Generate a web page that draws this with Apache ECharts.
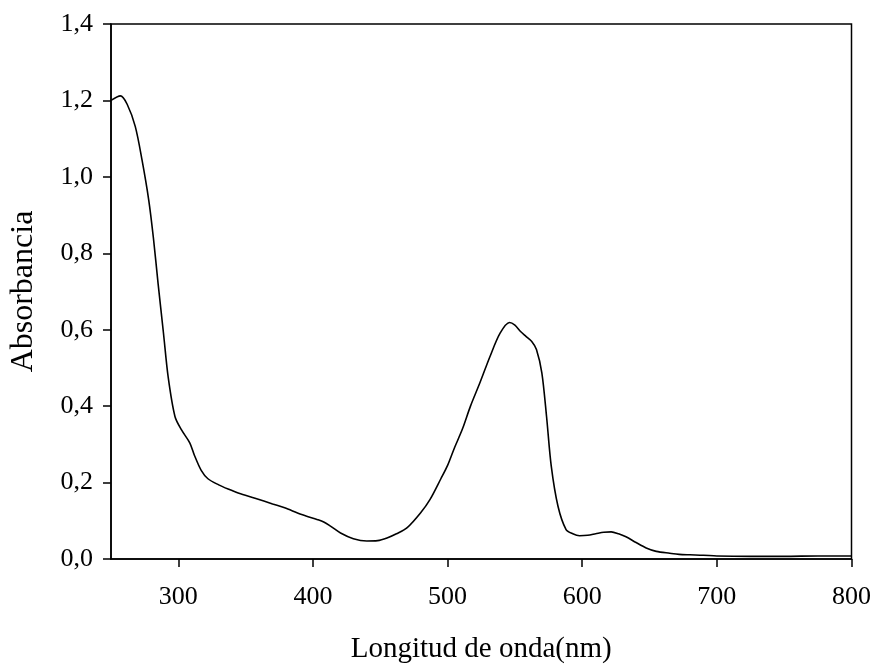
<!DOCTYPE html>
<html>
<head>
<meta charset="utf-8">
<script src="https://cdn.jsdelivr.net/npm/echarts@6/dist/echarts.min.js"></script>
<style>html,body{margin:0;padding:0;background:#fff}#c{width:874px;height:671px}</style>
</head>
<body>
<div id="c"></div>
<script>
const wavelength = [250, 257, 262, 268, 273, 278, 281.5, 285, 289, 292.5, 297.5, 302.5, 308.5, 312, 317, 322, 330, 337, 345, 357, 370, 379, 391, 403.5, 408, 413, 420.5, 430, 440, 448, 455, 462, 470, 480, 487, 495, 500, 505, 511, 517, 524, 531.5, 539, 546, 550, 554, 558, 562.5, 566, 570, 573.5, 577, 582, 588, 593, 598, 604, 610, 616, 621.5, 627, 632.5, 640, 647.5, 655, 665, 672, 680, 690, 700, 725, 750, 775, 800];
const absorbance = [1.20, 1.212, 1.19, 1.132, 1.045, 0.94, 0.84, 0.72, 0.59, 0.475, 0.373, 0.337, 0.304, 0.271, 0.232, 0.21, 0.194, 0.183, 0.172, 0.159, 0.144, 0.134, 0.117, 0.103, 0.097, 0.086, 0.068, 0.053, 0.047, 0.048, 0.055, 0.066, 0.082, 0.121, 0.156, 0.21, 0.245, 0.29, 0.34, 0.40, 0.461, 0.530, 0.591, 0.619, 0.612, 0.596, 0.583, 0.569, 0.548, 0.487, 0.373, 0.243, 0.138, 0.077, 0.066, 0.061, 0.062, 0.066, 0.07, 0.071, 0.066, 0.058, 0.043, 0.029, 0.02, 0.015, 0.012, 0.011, 0.01, 0.008, 0.007, 0.007, 0.008, 0.008];
const xTicks = [300, 400, 500, 600, 700, 800];
const yTicks = [0, 0.2, 0.4, 0.6, 0.8, 1.0, 1.2, 1.4];

const chart = echarts.init(document.getElementById('c'));
const font = '"Liberation Serif", "Times New Roman", serif';
chart.setOption({
  animation: false,
  backgroundColor: '#fff',
  grid: { left: 109, top: 24, right: 22, bottom: 112, show: true, borderColor: '#000', borderWidth: 1.5, backgroundColor: 'transparent' },
  xAxis: {
    type: 'value', min: 250, max: 800,
    name: 'Longitud de onda(nm)', nameLocation: 'middle', nameGap: 76,
    nameTextStyle: { fontFamily: font, fontSize: 29, color: '#000' },
    axisLine: { show: true, onZero: false, lineStyle: { color: '#000', width: 1.5 } },
    axisTick: { show: true, inside: false, length: 8, lineStyle: { color: '#000', width: 1.5 }, customValues: xTicks },
    axisLabel: { fontFamily: font, fontSize: 26, color: '#000', margin: 25, customValues: xTicks },
    splitLine: { show: false }
  },
  yAxis: {
    type: 'value', min: 0, max: 1.4, interval: 0.2,
    name: 'Absorbancia', nameLocation: 'middle', nameGap: 71,
    nameTextStyle: { fontFamily: font, fontSize: 32, color: '#000' },
    axisLine: { show: true, lineStyle: { color: '#000', width: 1.5 } },
    axisTick: { show: true, inside: false, length: 8, lineStyle: { color: '#000', width: 1.5 } },
    axisLabel: { fontFamily: font, fontSize: 26, color: '#000', margin: 18,
      formatter: v => v.toFixed(1).replace('.', ',') },
    splitLine: { show: false }
  },
  series: [{
    type: 'line',
    data: wavelength.map((w, i) => [w, absorbance[i]]),
    smooth: 0.3,
    showSymbol: false,
    lineStyle: { color: '#000', width: 1.6 }
  }]
});
</script>
</body>
</html>
